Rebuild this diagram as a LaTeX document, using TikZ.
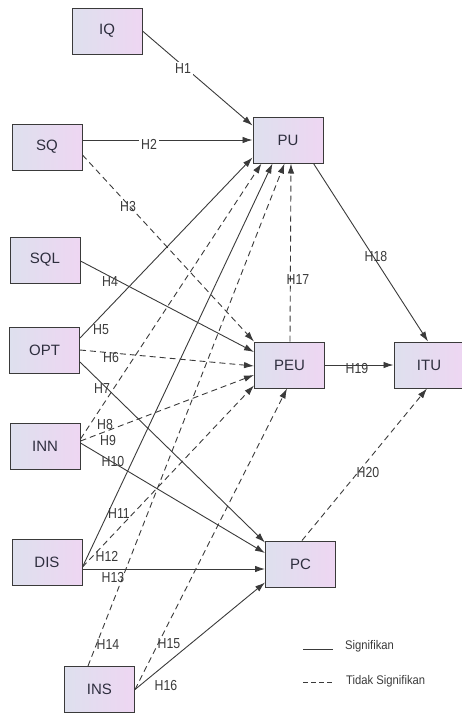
\documentclass[tikz,border=0pt]{standalone}
\usepackage{fontspec}
\setmainfont{Liberation Sans}
\newfontfamily\hypfont[FakeStretch=0.85]{Liberation Sans}
\newfontfamily\legfont[FakeStretch=0.9]{Liberation Sans}
\usetikzlibrary{arrows.meta,calc}

\definecolor{edgecol}{HTML}{3A3A3A}
\definecolor{boxleft}{HTML}{DEE0EE}
\definecolor{boxright}{HTML}{EED6F2}
\definecolor{boxtext}{HTML}{2E2E3E}

\tikzset{
  construct/.style={draw=edgecol, line width=1pt, left color=boxleft, right color=boxright,
    minimum width=70pt, minimum height=46pt, inner sep=0pt,
    font=\fontsize{15}{17}\selectfont, text=boxtext},
  path/.style={draw=edgecol, line width=0.9pt, -{Latex[length=10pt,width=6.5pt]}},
  sig/.style={path},
  nonsig/.style={path, dash pattern=on 6pt off 4pt},
  hyp/.style={font=\hypfont\fontsize{14.5}{16}\selectfont, text=edgecol, inner sep=0.5pt},
  hypbg/.style={hyp, fill=white, inner sep=2pt},
  legendtext/.style={font=\legfont\fontsize{12.5}{14}\selectfont, text=edgecol, anchor=west, inner sep=0pt},
}

\begin{document}
\begin{tikzpicture}[x=1pt, y=-1pt]
\useasboundingbox (0,0) rectangle (462,713);

% constructs
\node[construct] (IQ)  at (107,31)    {IQ};
\node[construct] (SQ)  at (47,147)    {SQ};
\node[construct] (SQL) at (45,260)    {SQL};
\node[construct] (OPT) at (44.5,350)  {OPT};
\node[construct] (INN) at (45,446)    {INN};
\node[construct] (DIS) at (47,562)    {DIS};
\node[construct] (INS) at (99.5,689.5){INS};
\node[construct] (PU)  at (288,140)   {PU};
\node[construct] (PEU) at (289.5,365) {PEU};
\node[construct] (ITU) at (429,365)   {ITU};
\node[construct] (PC)  at (300.5,564) {PC};

% hypothesis labels
\node[hyp] (l3)  at (128,207) {H3};
\node[hyp] (l4)  at (110,282) {H4};
\node[hyp] (l5)  at (101,330) {H5};
\node[hyp] (l6)  at (111,358) {H6};
\node[hyp] (l7)  at (102,389) {H7};
\node[hyp] (l8)  at (105,425) {H8};
\node[hyp] (l9)  at (108,441) {H9};
\node[hyp] (l10) at (113,462) {H10};
\node[hyp] (l11) at (119,514) {H11};
\node[hyp] (l12) at (107,556) {H12};
\node[hyp] (l13) at (113,577) {H13};
\node[hyp] (l14) at (108,645) {H14};
\node[hyp] (l15) at (169,644) {H15};
\node[hyp] (l16) at (166,685) {H16};
\node[hyp] (l17) at (298,280) {H17};
\node[hyp] (l18) at (376,257) {H18};
\node[hyp] (l19) at (357,369) {H19};
\node[hyp] (l20) at (368,473) {H20};

% paths to PU
\draw[sig]    (IQ.east) -- ($(PU.north west)+(0,9)$);
\draw[sig]    ($(SQ.east)+(0,-7)$) -- (PU.west);
\draw[sig]    ($(OPT.east)+(0,-12)$) -- ($(PU.south west)+(0,-6)$);
\draw[nonsig] ($(INN.east)+(0,-7)$) -- ($(PU.south west)+(9,0)$);
\draw[sig]    ($(DIS.east)+(0,5)$) -- ($(PU.south west)+(20,0)$);
\draw[nonsig] ($(INS.north west)+(24,0)$) -- ($(PU.south west)+(32,0)$);
\draw[nonsig] ($(PEU.north)+(0.5,0)$) -- ($(PU.south)+(3,0)$);

% paths to PEU
\draw[nonsig] ($(SQ.east)+(0,8)$) -- (PEU.north west);
\draw[sig]    ($(SQL.east)+(0,1)$) -- ($(PEU.west)+(0,-13)$);
\draw[nonsig] (OPT.east) -- ($(PEU.west)+(0,1)$);
\draw[nonsig] ($(INN.east)+(0,-5)$) -- ($(PEU.west)+(0,10)$);
\draw[nonsig] ($(DIS.east)+(0,5)$) -- ($(PEU.south west)+(0,-3)$);
\draw[nonsig] (INS.east) -- ($(PEU.south west)+(33,0)$);

% paths to PC
\draw[sig]    ($(OPT.east)+(0,12)$) -- ($(PC.north west)+(0,2)$);
\draw[sig]    ($(INN.east)+(0,-3)$) -- ($(PC.west)+(0,-11)$);
\draw[sig]    ($(DIS.east)+(0,7)$) -- ($(PC.west)+(0,5)$);
\draw[sig]    (INS.east) -- ($(PC.south west)+(0,-5)$);

% paths to ITU
\draw[sig]    ($(PU.south east)+(-10,0)$) -- ($(ITU.north)+(-1,0)$);
\draw[sig]    (PEU.east) -- (ITU.west);
\draw[nonsig] ($(PC.north)+(1.5,0)$) -- ($(ITU.south)+(-2,0)$);

% labels sitting on a cleared stretch of their line
\node[hypbg] (l1) at (183,69)  {H1};
\node[hypbg] (l2) at (149,144) {H2};

% legend
\coordinate (sigA) at (303,649);
\coordinate (sigB) at (333,649);
\coordinate (nsA)  at (303,682);
\coordinate (nsB)  at (333,682);
\draw[edgecol, line width=0.9pt] (sigA) -- (sigB);
\draw[edgecol, line width=0.9pt, dash pattern=on 5pt off 3pt] (nsA) -- (nsB);
\node[legendtext] (legsig) at (345,646) {Signifikan};
\node[legendtext] (legns)  at (346,681) {Tidak Signifikan};
\end{tikzpicture}
\end{document}
